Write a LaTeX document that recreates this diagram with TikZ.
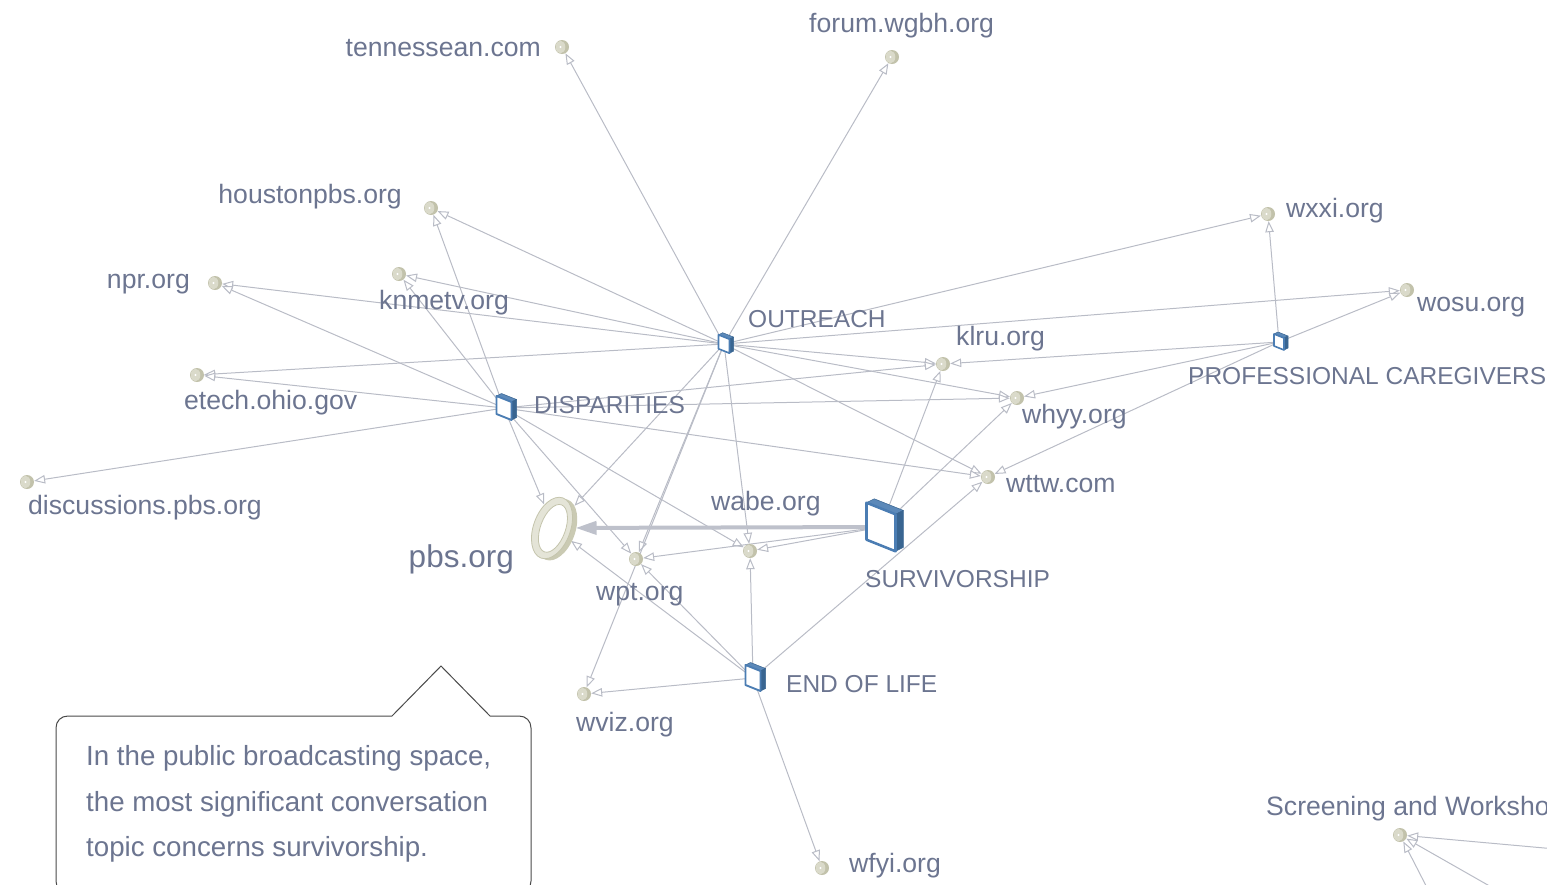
\documentclass[tikz,border=0pt]{standalone}
\usepackage{fontspec}
\setmainfont{Liberation Sans}
\usetikzlibrary{arrows.meta,shapes.geometric}
\definecolor{edgec}{HTML}{B9BCC6}
\definecolor{thickc}{HTML}{BEC1CB}
\definecolor{txtc}{HTML}{6C7590}
\definecolor{sitec}{HTML}{C2C2AB}
\definecolor{sitelt}{HTML}{DADACA}
\definecolor{boxb}{HTML}{4B7DB3}
\definecolor{boxtop}{HTML}{5C89B9}
\definecolor{boxside}{HTML}{396591}
\definecolor{ringc}{HTML}{E4E4D7}
\definecolor{ringdk}{HTML}{CACAB3}
\definecolor{ringed}{HTML}{C4C4AC}
\definecolor{callc}{HTML}{4A4A4A}
\pgfdeclarelayer{bg}
\pgfsetlayers{bg,main}
\newcommand{\topicbox}[5]{%
  \pgfmathsetmacro\tbs{0.4*#4}%
  \pgfmathsetmacro\tbdx{0.2*#4+2}%
  \pgfmathsetmacro\tbdy{-0.1*#4-1}%
  \pgfmathsetmacro\tblw{1.1+0.05*#4}%
  \pgfmathsetmacro\tbhx{#4/2}%
  \pgfmathsetmacro\tbhy{(#5+\tbs)/2}%
  \begin{scope}[shift={(#2,#3)}, line join=round]
    \filldraw[fill=boxtop, draw=boxside, line width=0.5pt]
      ({-\tbhx},{-\tbhy}) -- ({-\tbhx+\tbdx},{-\tbhy+\tbdy}) -- ({\tbhx+\tbdx},{-\tbhy+\tbs+\tbdy}) -- ({\tbhx},{-\tbhy+\tbs}) -- cycle;
    \filldraw[fill=boxside, draw=boxside, line width=0.5pt]
      ({\tbhx},{-\tbhy+\tbs}) -- ({\tbhx+\tbdx},{-\tbhy+\tbs+\tbdy}) -- ({\tbhx+\tbdx},{\tbhy+\tbdy}) -- ({\tbhx},{\tbhy}) -- cycle;
    \filldraw[fill=white, draw=boxb, line width=\tblw pt]
      ({-\tbhx},{-\tbhy}) -- ({\tbhx},{-\tbhy+\tbs}) -- ({\tbhx},{\tbhy}) -- ({-\tbhx},{\tbhy-\tbs}) -- cycle;
  \end{scope}
  \node[inner sep=0pt, minimum size=2pt] (#1) at (#2,#3) {};
}
\tikzset{
  site/.style={circle, inner sep=0pt, minimum size=14pt, fill=sitec,
    path picture={
      \fill[sitelt] ([xshift=-1.5pt]path picture bounding box.center) ellipse (4.8pt and 6.3pt);
      \fill[white] ([xshift=-1.5pt]path picture bounding box.center) circle (1.2pt);}},
  lbl/.style={font=\fontsize{26.6}{30}\selectfont, text=txtc, inner sep=0pt},
  caplbl/.style={font=\fontsize{24.5}{28}\selectfont, text=txtc, inner sep=0pt},
  biglbl/.style={font=\fontsize{31.5}{36}\selectfont, text=txtc, inner sep=0pt},
  calltxt/.style={font=\fontsize{27.7}{32}\selectfont, text=txtc, inner sep=0pt, anchor=base west},
  edge/.style={draw=edgec, line width=1pt, -{Triangle[length=11pt, width=8.5pt, fill=white, line width=1pt]}},
}
\begin{document}
\begin{tikzpicture}[x=1pt,y=-1pt]
\useasboundingbox (0,0) rectangle (1547,884);
\clip (0,0) rectangle (1547,884);

% site nodes
\node[site] (ten) at (562,47) {};
\node[site] (wgbh) at (892,57) {};
\node[site] (hou) at (431,208) {};
\node[site] (npr) at (215,283) {};
\node[site] (knm) at (399,274) {};
\node[site] (etech) at (197,375) {};
\node[site] (disc) at (27,482) {};
\node[site] (wxxi) at (1268,214) {};
\node[site] (wosu) at (1407,290) {};
\node[site] (klru) at (943,364) {};
\node[site] (whyy) at (1017,398) {};
\node[site] (wttw) at (988,477) {};
\node[site] (wabe) at (750,551) {};
\node[site] (wpt) at (636,559) {};
\node[site] (wviz) at (584,694) {};
\node[site] (wfyi) at (822,868) {};
\node[site] (scr) at (1400,835) {};

% pbs.org ring
\begin{scope}[shift={(552,528)}, rotate=-20]
  \fill[ringdk] (5,0) ellipse (18.5pt and 32pt);
  \filldraw[fill=ringc, draw=ringed, line width=0.8pt] (0,0) ellipse (18.5pt and 32pt);
  \filldraw[fill=white, draw=ringed, line width=0.8pt] (1,0) ellipse (12.5pt and 25pt);
\end{scope}
\node[ellipse, inner sep=0pt, minimum width=41pt, minimum height=67pt, rotate=-20] (pbs) at (554,528) {};

% topic boxes
\topicbox{out}{724}{344}{11}{14}
\topicbox{dis}{504}{408}{15}{18}
\topicbox{pc}{1279}{342}{10}{12}
\topicbox{sur}{881}{527}{29}{37}
\topicbox{eol}{753}{678}{15}{20}

% off-canvas endpoints
\coordinate (offa) at (1700,862);
\coordinate (offb) at (1602,950);
\coordinate (offc) at (1459,950);

\begin{pgfonlayer}{bg}
\clip (0,0) rectangle (1547,884);
\foreach \t in {ten,wgbh,hou,npr,knm,etech,wxxi,wosu,klru,whyy,wttw,wabe,wpt,wviz,pbs}
  \draw[edge] (out.center) -- (\t);
\foreach \t in {hou,npr,knm,etech,disc,klru,whyy,wttw,wabe,wpt,pbs}
  \draw[edge] (dis.center) -- (\t);
\foreach \t in {wxxi,wosu,klru,whyy,wttw}
  \draw[edge] (pc.center) -- (\t);
\foreach \t in {klru,whyy,wabe,wpt}
  \draw[edge] (sur.center) -- (\t);
\foreach \t in {wviz,wfyi,wabe,wttw,pbs,wpt}
  \draw[edge] (eol.center) -- (\t);
\foreach \t in {offa,offb,offc}
  \draw[edge] (\t) -- (scr);
\draw[draw=thickc, line width=4pt, -{Triangle[length=21pt, width=13pt]}] (sur.center) -- (pbs);
\end{pgfonlayer}

% labels
\node[lbl, anchor=base east] (tenL) at (541,56) {tennessean.com};
\node[lbl, anchor=base west] (wgbhL) at (809,32) {forum.wgbh.org};
\node[lbl, anchor=base east] (houL) at (402,203) {houstonpbs.org};
\node[lbl, anchor=base east] (nprL) at (190,288) {npr.org};
\node[lbl, anchor=base west] (knmL) at (379,309) {knmetv.org};
\node[lbl, anchor=base west] (etechL) at (184,409) {etech.ohio.gov};
\node[lbl, anchor=base west] (discL) at (28,514) {discussions.pbs.org};
\node[lbl, anchor=base west] (wxxiL) at (1286,217) {wxxi.org};
\node[lbl, anchor=base west] (wosuL) at (1417,311) {wosu.org};
\node[lbl, anchor=base west] (klruL) at (956,345) {klru.org};
\node[lbl, anchor=base west] (whyyL) at (1022,423) {whyy.org};
\node[lbl, anchor=base west] (wttwL) at (1006,492) {wttw.com};
\node[lbl, anchor=base west] (wabeL) at (711,510) {wabe.org};
\node[lbl, anchor=base west] (wptL) at (596,600) {wpt.org};
\node[lbl, anchor=base west] (wvizL) at (576,731) {wviz.org};
\node[lbl, anchor=base west] (wfyiL) at (849,872) {wfyi.org};
\node[biglbl, anchor=base east] (pbsL) at (514,567) {pbs.org};
\node[lbl, anchor=base west] (scrL) at (1266,815) {Screening and Worksho};
\node[caplbl, anchor=base west] (outL) at (748,327) {OUTREACH};
\node[caplbl, anchor=base west] (disL) at (534,413) {DISPARITIES};
\node[caplbl, anchor=base west] (pcL) at (1188,384) {PROFESSIONAL CAREGIVERS};
\node[caplbl, anchor=base west] (surL) at (865,587) {SURVIVORSHIP};
\node[caplbl, anchor=base west] (eolL) at (786,692) {END OF LIFE};

% callout
\filldraw[fill=white, draw=callc, line width=1pt, line join=miter]
  (392,716) -- (441,666) -- (490,716) -- (519,716)
  .. controls (526,716) and (531,721) .. (531,728) -- (531,881)
  .. controls (531,888) and (526,893) .. (519,893) -- (68,893)
  .. controls (61,893) and (56,888) .. (56,881) -- (56,728)
  .. controls (56,721) and (61,716) .. (68,716) -- cycle;
\node[calltxt] (c1) at (86,765) {In the public broadcasting space,};
\node[calltxt] (c2) at (86,811) {the most significant conversation};
\node[calltxt] (c3) at (86,856) {topic concerns survivorship.};
\end{tikzpicture}
\end{document}
